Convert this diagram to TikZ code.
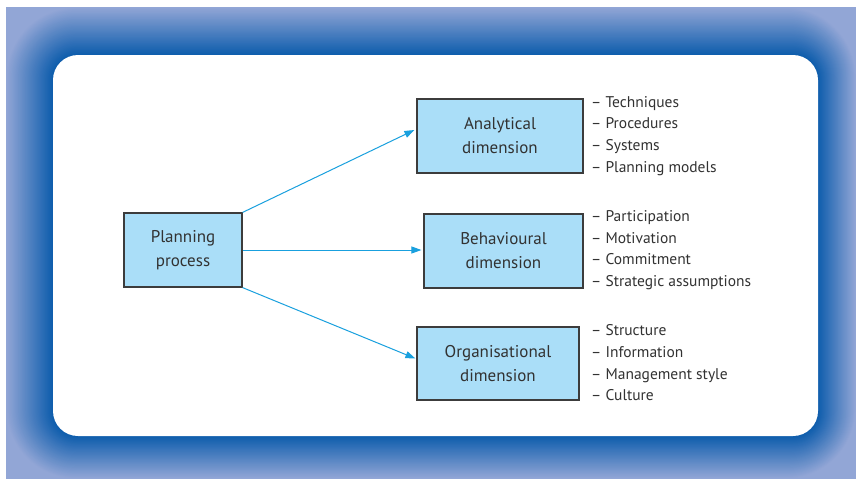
\documentclass[tikz,border=0pt]{standalone}
\usepackage{fontspec}
\setmainfont{PT Sans}
\usetikzlibrary{arrows.meta}
\definecolor{outerc}{RGB}{146,166,214}
\definecolor{innerc}{RGB}{12,92,172}
\definecolor{boxfill}{RGB}{170,222,248}
\definecolor{boxline}{RGB}{60,60,60}
\definecolor{arrowc}{RGB}{25,160,222}
\definecolor{txt}{RGB}{50,50,50}
\begin{document}
\begin{tikzpicture}[x=1pt,y=-1pt,
  dimbox/.style={draw=boxline, line width=1.2pt, fill=boxfill, align=center, text=txt,
    font=\fontsize{17}{24}\selectfont, inner sep=0pt},
  itemlist/.style={anchor=west, align=left, text=txt, inner sep=0pt,
    font=\fontsize{15.5}{21.7}\selectfont},
  conn/.style={draw=arrowc, line width=1pt, -{Triangle[length=10pt,width=7pt]}}]
\useasboundingbox (0,0) rectangle (858,480);
\fill[outerc] (6,7) rectangle (856,479);
\foreach \i in {1,...,40}{
  \pgfmathsetmacro\tt{\i/40}
  \pgfmathsetmacro\pp{100*\tt}
  \colorlet{stepc}{innerc!\pp!outerc}
  \pgfmathsetmacro\xl{6+47*\tt}
  \pgfmathsetmacro\yt{7+48*\tt}
  \pgfmathsetmacro\xr{856-38*\tt}
  \pgfmathsetmacro\yb{479-43*\tt}
  \pgfmathsetmacro\rr{25+45*(1-\tt)}
  \fill[stepc, rounded corners=\rr pt] (\xl,\yt) rectangle (\xr,\yb);
}
\fill[white, rounded corners=25pt] (53,55) rectangle (818,436);

\node[dimbox, minimum width=118pt, minimum height=74pt] (plan) at (183,250) {Planning\\process};
\node[dimbox, minimum width=166pt, minimum height=74pt] (ana) at (500,136) {Analytical\\dimension};
\node[dimbox, minimum width=159pt, minimum height=74pt] (beh) at (503.5,251) {Behavioural\\dimension};
\node[dimbox, minimum width=162pt, minimum height=73pt] (org) at (498,363.5) {Organisational\\dimension};

\node[itemlist] (anal) at (591,136) {-- Techniques\\-- Procedures\\-- Systems\\-- Planning models};
\node[itemlist] (behl) at (591,250) {-- Participation\\-- Motivation\\-- Commitment\\-- Strategic assumptions};
\node[itemlist] (orgl) at (591,363) {-- Structure\\-- Information\\-- Management style\\-- Culture};

\draw[conn] (plan.north east) -- ([xshift=-2pt,yshift=6pt]ana.west);
\draw[conn] (plan.east) -- ([xshift=-2pt]beh.west |- plan.east);
\draw[conn] (plan.south east) -- ([xshift=-1pt,yshift=5pt]org.west);
\end{tikzpicture}
\end{document}
